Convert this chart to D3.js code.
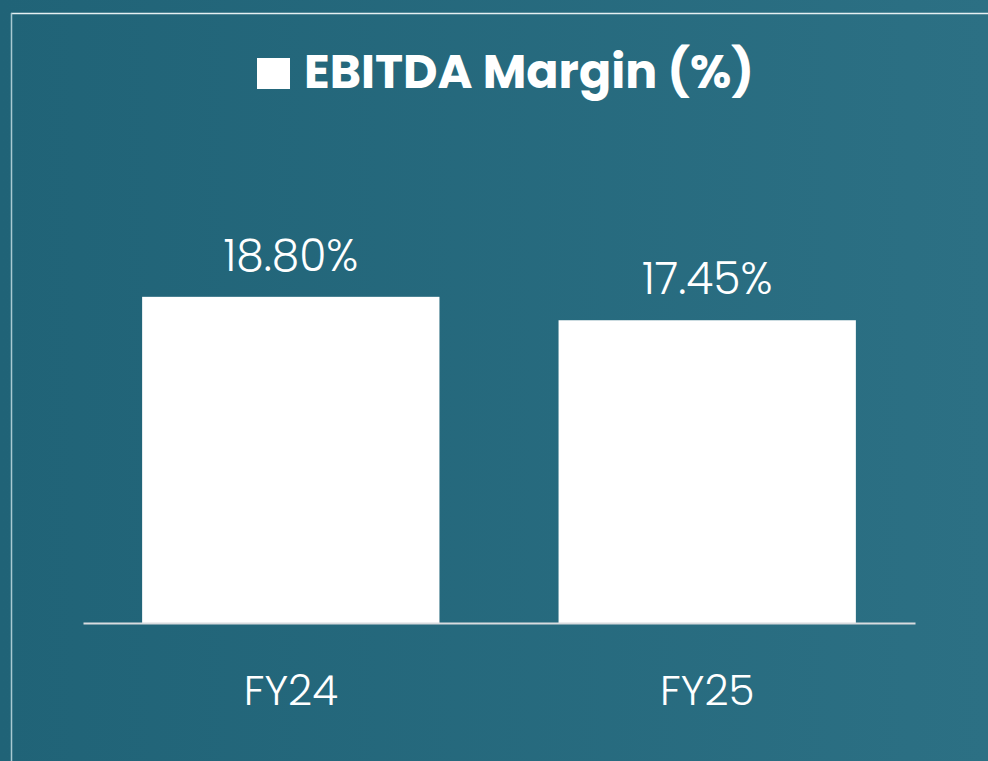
<!DOCTYPE html>
<meta charset="utf-8">
<style>
body { margin: 0; }
text { font-family: Poppins, Lato, "Open Sans", sans-serif; fill: #fff; }
</style>
<body>
<script src="https://d3js.org/d3.v7.min.js"></script>
<script>

// data
var categories = ["FY24", "FY25"];
var values = [18.80, 17.45];
var valueLabels = ["18.80%", "17.45%"];
var title = "EBITDA Margin (%)";

var W = 988, H = 761;
var margin = {top: 276, left: 83, right: 73, bottom: 138};
var width = W - margin.left - margin.right,
    height = H - margin.top - margin.bottom;

var svg = d3.select("body").append("svg")
    .attr("width", W)
    .attr("height", H);

// background gradient
var grad = svg.append("defs").append("linearGradient")
    .attr("id", "bg")
    .attr("x1", "0%").attr("y1", "0%").attr("x2", "100%").attr("y2", "0%");
grad.append("stop").attr("offset", "0%").attr("stop-color", "#206377");
grad.append("stop").attr("offset", "100%").attr("stop-color", "#2c7084");

svg.append("rect")
    .attr("width", W).attr("height", H)
    .attr("fill", "url(#bg)");

// frame lines
svg.append("line")
    .attr("x1", 11).attr("x2", W).attr("y1", 13.5).attr("y2", 13.5)
    .attr("stroke", "#e6f0f2").attr("stroke-width", 1.5);
svg.append("line")
    .attr("x1", 11.5).attr("x2", 11.5).attr("y1", 13).attr("y2", H)
    .attr("stroke", "#a9c9d1").attr("stroke-width", 1.5);

// title
var t = svg.append("g");
t.append("rect")
    .attr("x", 257).attr("y", 58).attr("width", 33).attr("height", 31)
    .attr("fill", "#fff");
t.append("text")
    .attr("x", 304).attr("y", 88)
    .attr("font-size", 47.5).attr("font-weight", 700)
    .text(title);

var g = svg.append("g")
    .attr("transform", "translate(" + margin.left + "," + margin.top + ")");

var x = d3.scaleBand()
    .domain(categories)
    .range([0, width])
    .paddingInner(0.286)
    .paddingOuter(0.142);

var y = d3.scaleLinear()
    .domain([0, 20])
    .range([height, 0]);

g.selectAll(".bar")
    .data(values)
  .enter().append("rect")
    .attr("class", "bar")
    .attr("x", function(d, i) { return x(categories[i]); })
    .attr("width", x.bandwidth())
    .attr("y", function(d) { return y(d); })
    .attr("height", function(d) { return height - y(d); })
    .attr("fill", "#fff");

// value labels
g.selectAll(".val")
    .data(values)
  .enter().append("text")
    .attr("class", "val")
    .attr("x", function(d, i) { return x(categories[i]) + x.bandwidth() / 2; })
    .attr("y", function(d) { return y(d) - 26; })
    .attr("text-anchor", "middle")
    .attr("font-size", 44).attr("font-weight", 300)
    .text(function(d, i) { return valueLabels[i]; });

// x axis
var xAxis = g.append("g")
    .attr("transform", "translate(0," + height + ")")
    .call(d3.axisBottom(x).tickSize(0).tickPadding(52));
xAxis.select(".domain").attr("stroke", "#d9dcdf").attr("stroke-width", 2);
xAxis.selectAll("text")
    .attr("font-size", 42).attr("font-weight", 300)
    .attr("fill", "#fff")
    .style("font-family", "Poppins, Lato, 'Open Sans', sans-serif");

</script>
</body>
